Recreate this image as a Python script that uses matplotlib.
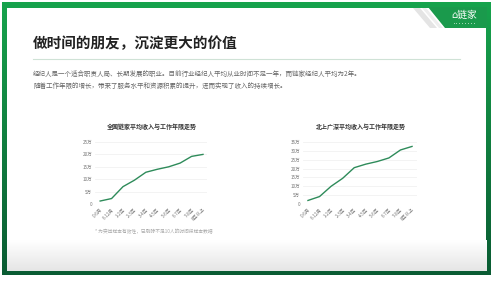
import numpy as np
import matplotlib.pyplot as plt
from matplotlib.patches import Rectangle, Polygon

plt.rcParams['font.family'] = ['Noto Sans CJK SC', 'DejaVu Sans']

# ==================================================
# DATA
# ==================================================

periods = ["0-6月", "6-12月", "1-2年", "2-3年", "3-4年",
           "4-5年", "5-6年", "6-7年", "7-8年", "8年以上"]

national_income = [1.2, 2.2, 7.0, 9.6, 12.8, 14.0, 15.0, 16.5, 19.2, 20.0]
tier1_income = [2.0, 4.2, 10.0, 14.5, 20.5, 22.5, 24.0, 26.0, 30.5, 32.5]

national_ticks = [0, 5, 10, 15, 20, 25]
tier1_ticks = [0, 5, 10, 15, 20, 25, 30, 35]

title = "做时间的朋友，沉淀更大的价值"
body_lines = [
    "经纪人是一个适合职责人局、长期发展的职业。目前行业经纪人平均从业时间不足一年，而链家经纪人平均为2年。",
    "随着工作年限的增长，带来了服务水平和资源积累的提升，进而实现了收入的持续增长。",
]
chart_titles = ["全国链家平均收入与工作年限走势", "北上广深平均收入与工作年限走势"]
footnote = "* 为突出样本有效性，已剔除不足10人的时间段样本数据"

W, H = 494, 281
GREEN_LINE = "#2e8b5a"

fig = plt.figure(figsize=(W / 100, H / 100), dpi=100)

# ==================================================
# BACKGROUND FRAME (pixel coordinates)
# ==================================================

bg = fig.add_axes([0, 0, 1, 1])
bg.set_xlim(0, W)
bg.set_ylim(H, 0)
bg.axis("off")

# green frame with vertical gradient
grad = np.linspace(0, 1, 100).reshape(-1, 1)
top = np.array([0.09, 0.64, 0.30])
bot = np.array([0.04, 0.36, 0.20])
frame_img = top + (bot - top) * grad[..., None]
bg.imshow(frame_img, extent=(2, 490, 275, 2), aspect="auto", zorder=1)

# white panel
bg.add_patch(Rectangle((7, 8), 479, 263, facecolor="white", edgecolor="none", zorder=2))

# soft grey gradient at bottom of panel
shade = np.linspace(1.0, 0.9, 50).reshape(-1, 1)
shade_img = np.repeat(shade[..., None], 3, axis=2)
bg.imshow(shade_img, extent=(7, 486, 271, 240), aspect="auto", zorder=3)

# green tab with logo on top right
bg.add_patch(Polygon([(413, 8), (420, 8), (437, 28), (430, 28)],
                     facecolor="#e4e4e4", edgecolor="none", zorder=3))
bg.add_patch(Polygon([(422, 8), (426, 8), (443, 28), (439, 28)],
                     facecolor="#eeeeee", edgecolor="none", zorder=3))
bg.add_patch(Polygon([(428, 7), (487, 7), (487, 28), (445, 28)],
                     facecolor="#1a9a4c", edgecolor="none", zorder=3))
bg.text(464, 15, "⌂链家", color="white", fontsize=7, ha="center", va="center", zorder=4)
bg.text(465, 23.5, "▪▪▪▪▪▪▪▪", color="#d8f0df", fontsize=2.2, ha="center", va="center", zorder=4)

# title and divider
bg.text(33, 43, title, fontsize=10.5, fontweight="bold", color="#222222",
        ha="left", va="center", zorder=4)
bg.plot([33, 460], [58.5, 58.5], color="#cfe2d6", lw=0.8, zorder=4)

# body text
for i, line in enumerate(body_lines):
    bg.text(33, 74 + i * 12, line, fontsize=4.7, color="#666666",
            ha="left", va="center", zorder=4)

# chart titles
bg.text(152, 126, chart_titles[0], fontsize=4.3, fontweight="bold", color="#333333",
        ha="center", va="center", zorder=4)
bg.text(361, 126, chart_titles[1], fontsize=4.3, fontweight="bold", color="#333333",
        ha="center", va="center", zorder=4)

# footnote
bg.text(95, 231, footnote, fontsize=3.4, color="#aaaaaa", ha="left", va="center", zorder=4)


# ==================================================
# LINE CHARTS
# ==================================================

def draw_chart(rect, values, ticks, xlim):
    x0, y0, x1, y1 = rect
    ax = fig.add_axes([x0 / W, 1 - y1 / H, (x1 - x0) / W, (y1 - y0) / H])
    ax.set_facecolor("none")
    xs = np.arange(len(values))
    ax.plot(xs, values, color=GREEN_LINE, lw=1.0, zorder=3)
    ax.set_xlim(*xlim)
    ax.set_ylim(0, ticks[-1])
    ax.set_yticks(ticks)
    ax.set_yticklabels(["0" if t == 0 else f"{t}万" for t in ticks])
    ax.set_xticks(xs)
    ax.set_xticklabels(periods, rotation=45, ha="right", rotation_mode="anchor")
    ax.tick_params(axis="both", length=0, labelsize=3.3, labelcolor="#777777", pad=2)
    ax.grid(axis="y", color="#eeeeee", lw=0.5)
    for s in ax.spines.values():
        s.set_visible(False)
    return ax


draw_chart((95, 142, 207, 204), national_income, national_ticks, (-0.45, 9.35))
draw_chart((303, 142, 417, 204), tier1_income, tier1_ticks, (-0.43, 9.43))

fig.savefig("out.png", dpi=100)
